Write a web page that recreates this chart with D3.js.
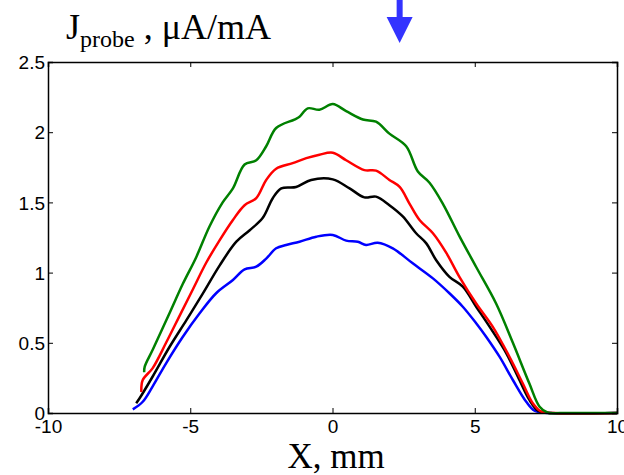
<!DOCTYPE html>
<html>
<head>
<meta charset="utf-8">
<script src="https://cdn.jsdelivr.net/npm/d3@7"></script>
<style>
  body { margin: 0; background: #fff; }
  svg { display: block; }
</style>
</head>
<body>
<div id="chart"></div>
<script>
// x positions (mm) and probe current (uA/mA)
var greenX = [-6.62, -6.6, -6.32, -5.73, -5.26, -4.79, -4.32, -3.86, -3.5, -3.09, -2.68, -2.33, -1.98, -1.34, -1.16, -0.87, -0.46, 0.01, 0.48, 1.07, 1.53, 2.0, 2.59, 3.0, 3.41, 3.88, 4.46, 5.05, 5.75, 6.34, 6.92, 7.28, 7.57, 8.0, 10.0];
var greenY = [0.29, 0.33, 0.45, 0.71, 0.92, 1.11, 1.33, 1.5, 1.6, 1.77, 1.8, 1.9, 2.03, 2.09, 2.11, 2.17, 2.16, 2.2, 2.15, 2.09, 2.075, 1.99, 1.9, 1.72, 1.64, 1.49, 1.26, 1.04, 0.78, 0.5, 0.21, 0.045, 0.002, 0, 0];

var redX = [-6.72, -6.67, -6.32, -5.85, -5.38, -4.91, -4.44, -3.97, -3.5, -3.09, -2.68, -2.33, -1.98, -1.4, -0.92, -0.46, 0.01, 0.48, 1.12, 1.53, 2.0, 2.36, 2.71, 3.06, 3.53, 4.0, 4.46, 5.05, 5.63, 6.22, 6.69, 7.04, 7.34, 7.8, 10.0];
var redY = [0.15, 0.235, 0.32, 0.5, 0.69, 0.88, 1.07, 1.23, 1.375, 1.48, 1.53, 1.66, 1.74, 1.78, 1.815, 1.84, 1.854, 1.8, 1.73, 1.726, 1.66, 1.61, 1.49, 1.375, 1.28, 1.14, 0.97, 0.78, 0.615, 0.4, 0.21, 0.07, 0.01, 0, 0];

var blackX = [-6.9, -6.78, -6.32, -5.73, -5.14, -4.56, -3.97, -3.38, -2.92, -2.45, -2.1, -1.8, -1.28, -0.75, 0.01, 0.6, 1.12, 1.53, 2.0, 2.47, 2.94, 3.29, 3.64, 4.11, 4.58, 5.05, 5.52, 6.11, 6.57, 6.92, 7.22, 7.7, 10.0];
var blackY = [0.07, 0.105, 0.26, 0.47, 0.66, 0.85, 1.05, 1.22, 1.3, 1.39, 1.53, 1.6, 1.61, 1.66, 1.664, 1.6, 1.536, 1.541, 1.48, 1.4, 1.28, 1.21, 1.09, 0.97, 0.9, 0.757, 0.615, 0.425, 0.235, 0.093, 0.017, 0, 0];

var blueX = [-7.02, -6.67, -6.32, -5.85, -5.26, -4.67, -4.09, -3.5, -3.09, -2.68, -2.33, -1.98, -1.63, -1.16, -0.57, 0.01, 0.48, 0.89, 1.18, 1.59, 2.12, 2.82, 3.53, 4.11, 4.58, 5.05, 5.4, 5.87, 6.34, 6.81, 7.1, 7.6, 10.0];
var blueY = [0.026, 0.08, 0.19, 0.354, 0.543, 0.71, 0.853, 0.947, 1.023, 1.042, 1.1, 1.173, 1.197, 1.22, 1.256, 1.268, 1.228, 1.22, 1.197, 1.213, 1.173, 1.066, 0.959, 0.853, 0.757, 0.639, 0.543, 0.401, 0.235, 0.08, 0.017, 0, 0];

var xTicks = [-10, -5, 0, 5, 10];
var yTicks = [0, 0.5, 1, 1.5, 2, 2.5];

var series = [
    {name: "blue", x: blueX, y: blueY, color: "#0000ff"},
    {name: "black", x: blackX, y: blackY, color: "#000000"},
    {name: "red", x: redX, y: redY, color: "#ff0000"},
    {name: "green", x: greenX, y: greenY, color: "#008000"}
];

var width = 624, height = 475;
var margin = {left: 48, right: 7, top: 62, bottom: 62};

var svg = d3.select("#chart").append("svg")
    .attr("width", width)
    .attr("height", height);

var x = d3.scaleLinear().domain([-10, 10]).range([margin.left, width - margin.right]);
var y = d3.scaleLinear().domain([0, 2.5]).range([height - margin.bottom, margin.top]);

var line = d3.line()
    .x(function(d){ return x(d[0]); })
    .y(function(d){ return y(d[1]); })
    .curve(d3.curveCatmullRom.alpha(0.5));

// curves
series.forEach(function(s){
    var pts = s.x.map(function(v, i){ return [v, s.y[i]]; });
    svg.append("path")
        .datum(pts)
        .attr("fill", "none")
        .attr("stroke", s.color)
        .attr("stroke-width", 2.5)
        .attr("stroke-linejoin", "round")
        .attr("d", line);
});

// frame with inward ticks on all four sides
var tickFont = "Liberation Sans, Arial, sans-serif";
var plain = function(d){ return String(d); };   // keep the ascii hyphen like the original

var axBottom = svg.append("g")
    .attr("transform", "translate(0," + y(0) + ")")
    .call(d3.axisBottom(x).tickValues(xTicks).tickSize(-5).tickPadding(7).tickFormat(plain));
var axTop = svg.append("g")
    .attr("transform", "translate(0," + y(2.5) + ")")
    .call(d3.axisTop(x).tickValues(xTicks).tickSize(-5).tickFormat(""));
var axLeft = svg.append("g")
    .attr("transform", "translate(" + x(-10) + ",0)")
    .call(d3.axisLeft(y).tickValues(yTicks).tickSize(-5).tickPadding(3).tickFormat(plain));
var axRight = svg.append("g")
    .attr("transform", "translate(" + x(10) + ",0)")
    .call(d3.axisRight(y).tickValues(yTicks).tickSize(-5).tickFormat(""));

[axBottom, axTop, axLeft, axRight].forEach(function(g){
    g.select(".domain").attr("stroke", "#000").attr("stroke-width", 1.5);
    g.selectAll(".tick line").attr("stroke", "#000").attr("stroke-width", 1);
    g.selectAll("text")
        .attr("fill", "#000")
        .style("font-family", tickFont)
        .style("font-size", "19px");
});
axLeft.selectAll("text").attr("dy", "0.35em");

// axis titles
svg.append("text")
    .attr("x", 336)
    .attr("y", 468)
    .attr("text-anchor", "middle")
    .style("font-family", "Liberation Serif, Times New Roman, serif")
    .style("font-size", "35px")
    .text("X, mm");

var ttl = svg.append("text")
    .attr("x", 66)
    .attr("y", 39)
    .style("font-family", "Liberation Serif, Times New Roman, serif")
    .style("font-size", "36px");
ttl.append("tspan").text("J");
ttl.append("tspan").attr("dy", 8).style("font-size", "24px").text("probe");
ttl.append("tspan").attr("dy", -8).text(" , \u03bcA/mA");

// blue arrow pointing down at the probe position
var arrowX = x(2.36);
svg.append("rect")
    .attr("x", arrowX - 3)
    .attr("y", 0)
    .attr("width", 6)
    .attr("height", 20)
    .attr("fill", "#3333ff");
svg.append("path")
    .attr("d", "M" + (arrowX - 13) + ",17 L" + (arrowX + 13) + ",17 L" + arrowX + ",43 Z")
    .attr("fill", "#3333ff");
</script>
</body>
</html>
